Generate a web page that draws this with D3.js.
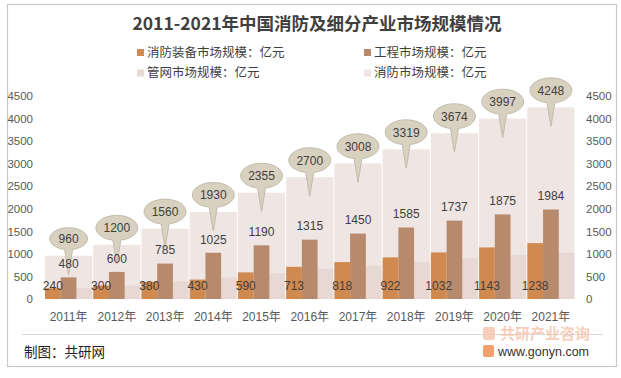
<!DOCTYPE html>
<html><head><meta charset="utf-8">
<script src="https://cdn.jsdelivr.net/npm/d3@7"></script>
<style>
body{margin:0;background:#fff;}
svg{display:block;font-family:"Liberation Sans","Noto Sans CJK SC",sans-serif;}
</style></head><body>
<svg id="c" width="621" height="378"></svg>
<script>
const years = ["2011年","2012年","2013年","2014年","2015年","2016年","2017年","2018年","2019年","2020年","2021年"];
const equipment = [240,300,380,430,590,713,818,922,1032,1143,1238];
const engineering = [480,600,785,1025,1190,1315,1450,1585,1737,1875,1984];
const pipe = [240,300,395,475,575,672,740,812,905,979,1026];
const total = [960,1200,1560,1930,2355,2700,3008,3319,3674,3997,4248];
const yTicks = [0,500,1000,1500,2000,2500,3000,3500,4000,4500];
const seriesNames = ["消防装备市场规模：亿元","工程市场规模：亿元","管网市场规模：亿元","消防市场规模：亿元"];
const colors = ["#D0894F","#B78A6D","#E7D8D4","#EFE5E3"];

const svg = d3.select("#c");
const txt = "#404040";

// frame
svg.append("rect").attr("x",7.5).attr("y",4.5).attr("width",609).attr("height",362)
  .attr("fill","#fff").attr("stroke","#c8c8c8").attr("stroke-width",1.2);

// title
svg.append("text").attr("x",317).attr("y",24).attr("dy","0.35em").attr("text-anchor","middle")
  .attr("font-family","'Noto Sans CJK SC',sans-serif").attr("font-weight","bold")
  .attr("font-size",17.5).attr("fill","#404040").text("2011-2021年中国消防及细分产业市场规模情况");

// legend
const legPos = [[137,52.5],[364,52.5],[137,73],[364,73]];
seriesNames.forEach((n,i)=>{
  const [lx,ly]=legPos[i];
  svg.append("rect").attr("x",lx).attr("y",ly-3.5).attr("width",7).attr("height",7).attr("fill",colors[i]);
  svg.append("text").attr("x",lx+10).attr("y",ly).attr("dy","0.35em")
    .attr("font-family","'Noto Sans CJK SC',sans-serif").attr("font-size",12.5).attr("fill",txt).text(n);
});

const x = d3.scaleBand().domain(years).range([45,574.5]).paddingInner(0.022).paddingOuter(0);
const sub = d3.scaleBand().domain([0,1,2]).range([0,x.bandwidth()]);
const y = d3.scaleLinear().domain([0,4500]).range([299,96]);

// axes labels
const fmt = d3.format("d");
const yl = d3.axisLeft(y).tickValues(yTicks).tickFormat(fmt).tickSize(0).tickPadding(0);
const gl = svg.append("g").attr("transform","translate(33,0)").call(yl);
gl.select(".domain").remove();
gl.selectAll("text").attr("font-size",11.5).attr("fill","#595959").attr("font-family","'Liberation Sans',sans-serif");
const yr = d3.axisRight(y).tickValues(yTicks).tickFormat(fmt).tickSize(0).tickPadding(0);
const gr = svg.append("g").attr("transform","translate(586,0)").call(yr);
gr.select(".domain").remove();
gr.selectAll("text").attr("font-size",11.5).attr("fill","#595959").attr("font-family","'Liberation Sans',sans-serif");

const xa = d3.axisBottom(x).tickSize(0).tickPadding(0);
const gx = svg.append("g").attr("transform","translate(0,312)").call(xa);
gx.select(".domain").remove();
gx.selectAll("text").attr("font-size",12).attr("fill","#595959")
  .attr("font-family","'Liberation Sans','Noto Sans CJK SC',sans-serif");

// total bars
svg.append("g").selectAll("rect").data(total).join("rect")
  .attr("x",(d,i)=>x(years[i])).attr("width",x.bandwidth())
  .attr("y",d=>y(d)).attr("height",d=>y(0)-y(d)).attr("fill",colors[3]);

const groups = [equipment,engineering,pipe];
[2,0,1].forEach(k=>{
  svg.append("g").selectAll("rect").data(groups[k]).join("rect")
    .attr("x",(d,i)=>x(years[i])+sub(k)).attr("width",sub.bandwidth())
    .attr("y",d=>y(d)).attr("height",d=>y(0)-y(d)).attr("fill",colors[k]);
});

// callouts
const cg = svg.append("g");
total.forEach((v,i)=>{
  const cx = x(years[i])+x.bandwidth()/2;
  const top = y(v);
  const cy = top-17, tip = top+19;
  const s = String(v);
  const rx = s.length>3?21:19, ry = s.length>3?12.5:11;
  const dx = 4;
  const ey = cy + ry*Math.sqrt(1-(dx/rx)*(dx/rx));
  const p = `M${cx+dx},${ey} A${rx},${ry} 0 1 0 ${cx-dx},${ey} L${cx},${tip} Z`;
  cg.append("path").attr("d",p).attr("fill","#D9D1C0").attr("stroke","#C3BCAC").attr("stroke-width",1);
  cg.append("text").attr("x",cx).attr("y",cy).attr("dy","0.36em").attr("text-anchor","middle")
    .attr("font-size",12).attr("fill",txt).text(s);
});

// labels
svg.append("g").selectAll("text").data(equipment).join("text")
  .attr("x",(d,i)=>x(years[i])+sub(0)+sub.bandwidth()/2).attr("y",286).attr("dy","0.36em")
  .attr("text-anchor","middle").attr("font-size",12).attr("fill",txt).text(d=>d);
svg.append("g").selectAll("text").data(engineering).join("text")
  .attr("x",(d,i)=>x(years[i])+sub(1)+sub.bandwidth()/2).attr("y",d=>y(d)-13.5).attr("dy","0.36em")
  .attr("text-anchor","middle").attr("font-size",12).attr("fill",txt).text(d=>d);

// footer
svg.append("line").attr("x1",22).attr("x2",603).attr("y1",334.5).attr("y2",334.5).attr("stroke","#d9d9d9");
svg.append("text").attr("x",24).attr("y",352).attr("dy","0.35em")
  .attr("font-family","'Noto Sans CJK SC',sans-serif").attr("font-size",13.5).attr("fill","#222").text("制图：共研网");
svg.append("text").attr("x",500).attr("y",334).attr("dy","0.35em")
  .attr("font-family","'Noto Sans CJK SC',sans-serif").attr("font-weight","bold")
  .attr("font-size",15).attr("fill","#F6C3AC").attr("opacity",0.8).text("共研产业咨询");
svg.append("rect").attr("x",483).attr("y",327).attr("width",12).attr("height",13).attr("rx",2)
  .attr("fill","#F6C3AC").attr("opacity",0.8);
svg.append("rect").attr("x",483).attr("y",345).attr("width",11).attr("height",12).attr("rx",2)
  .attr("fill","#EF8F55").attr("opacity",0.85);
svg.append("text").attr("x",498).attr("y",351.5).attr("dy","0.35em")
  .attr("font-family","'Liberation Sans',sans-serif").attr("font-size",12.5).attr("fill","#333").text("www.gonyn.com");
</script></body></html>
